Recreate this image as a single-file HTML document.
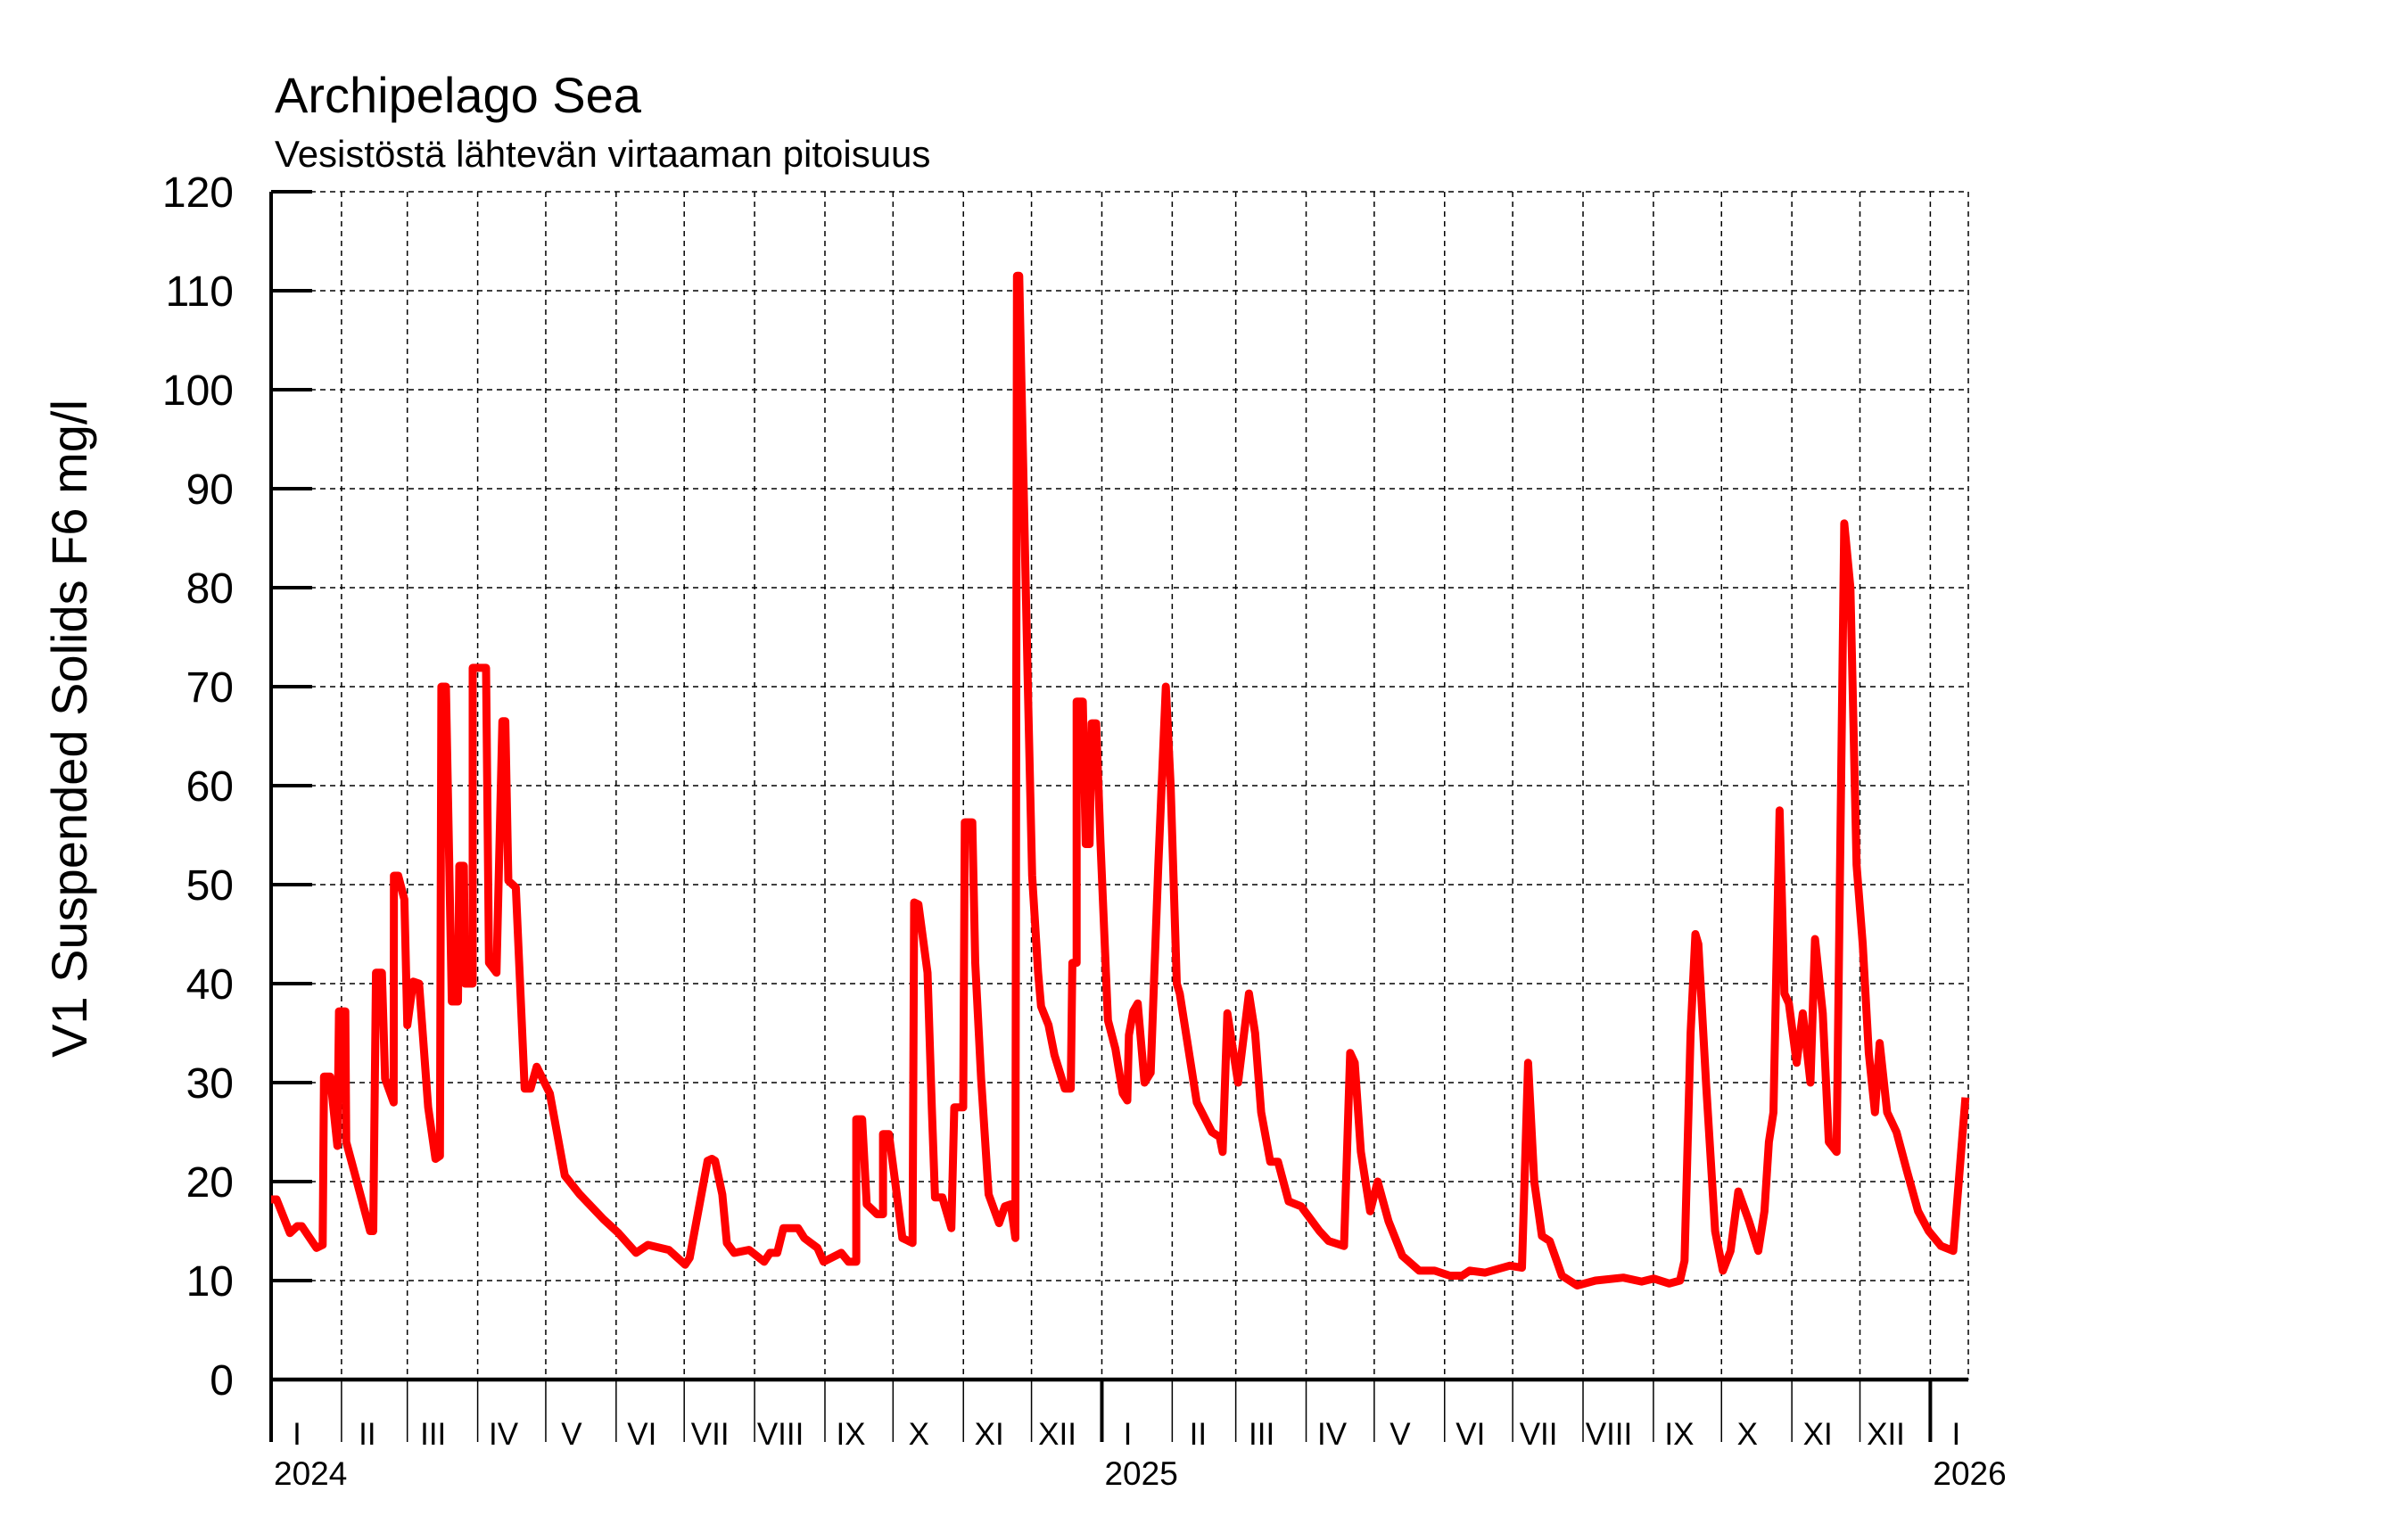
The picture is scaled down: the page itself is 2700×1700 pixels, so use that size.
<!DOCTYPE html>
<html><head><meta charset="utf-8"><style>
html,body{margin:0;padding:0;background:#fff}
svg{display:block}
text{font-family:"Liberation Sans",sans-serif;fill:#000}
</style></head><body>
<svg id="chart" width="2700" height="1700" viewBox="0 0 2700 1700" xmlns="http://www.w3.org/2000/svg">
<text x="308" y="126" font-size="56">Archipelago Sea</text>
<text x="308" y="187" font-size="42">Vesistöstä lähtevän virtaaman pitoisuus</text>
<text transform="translate(97,817) rotate(-90)" text-anchor="middle" font-size="56">V1 Suspended Solids F6 mg/l</text>
<g id="grid"></g>
<g id="axes"></g>
<g id="series"></g>
</svg>
<script>
const yTicks=[0,10,20,30,40,50,60,70,80,90,100,110,120];
const monthStarts=[0,31,60,91,121,152,182,213,244,274,305,335,366,397,425,456,486,517,547,578,609,639,670,700,731];
const monthLabels=["I","II","III","IV","V","VI","VII","VIII","IX","X","XI","XII","I","II","III","IV","V","VI","VII","VIII","IX","X","XI","XII","I"];
const yearStarts=[0,366,731];
const yearLabels=["2024","2025","2026"];
const days=[0,2.4,8.3,11.5,13.5,20,22.7,23.3,26,29.2,29.9,32.7,33.1,37.7,43.6,45,46.2,48.8,50.2,54,54.1,56,58.7,60,62.6,65.2,69.2,72.4,74.4,75,77,79.6,82.3,82.9,84.9,85.5,88.8,88.8,94.7,96,99.3,101.9,103.2,104.5,107.8,111.7,114.3,117,122.8,129.4,136,146.4,153,160.8,166,175.2,182.4,184.4,192.3,194.2,195.6,198.8,200.8,204,210.6,217.2,219.8,223,225.7,232.2,234.9,240.7,243.4,251.2,254.4,257.8,257.8,260.4,262.4,267,269.6,269.6,272.2,274.8,278.1,282.6,283.3,285.2,289.2,291.1,292.5,295.7,299.7,301,304.9,305.6,308.9,310.2,312.8,316.1,320.7,323.3,325.9,327.9,328.6,329.6,333.3,335.3,337.9,339.2,342.5,345.1,349.7,352.3,353,354.9,354.9,357.6,358.9,360.6,361.5,363.5,365.4,368.7,372,375.2,377.2,377.9,379.8,381.8,384.8,387.5,390.9,394.2,396.3,399,400.3,407.8,414.5,417.9,419.2,421.3,426,430.8,433.5,436.2,440.2,443.6,448.3,453.8,461.9,465.9,472.7,475.4,477.4,480.1,484.2,487.5,492.3,498.4,505.8,512.6,519.3,524.7,528.1,534.9,545.7,551.1,553.8,556.5,559.9,563.3,568.7,575.4,583.5,595.7,603.8,609.2,616,620.7,622.7,625.4,627.5,628.8,632.2,636.2,639.6,643,646.4,651.1,655.2,657.9,659.9,661.9,664.6,666.7,668.7,672.1,674.8,678.2,680.2,683.6,686.3,689.7,693.1,695.8,698.5,701.2,703.9,706.6,708.7,712,716.1,720.8,725.6,730.3,735.7,741.1,746.5];
const values=[18.2,18.2,14.8,15.5,15.5,13.3,13.6,30.6,30.6,23.6,37.2,37.2,24,20.1,15,15,41.1,41.1,30.4,28,50.9,50.9,48.5,35.8,40.2,40,27.5,22.3,22.6,70,70,38.2,38.2,51.9,51.9,40,40,71.9,71.9,42.1,41.1,66.5,66.5,50.4,49.7,29.4,29.4,31.6,28.9,20.6,18.7,16.2,14.8,12.8,13.6,13.1,11.6,12.3,22.1,22.3,22.1,18.7,13.8,12.8,13.1,11.9,12.8,12.8,15.3,15.3,14.3,13.3,11.9,12.8,11.9,11.9,26.3,26.3,17.7,16.7,16.7,24.8,24.8,20.2,14.3,13.8,48.2,48,41.1,27.5,18.4,18.4,15.3,27.5,27.5,56.3,56.3,42.1,30.4,18.7,15.8,17.5,17.7,14.3,111.5,111.5,71.2,50.9,41.1,37.7,35.8,32.8,29.4,29.4,42.1,42.1,68.5,68.5,54.1,54.1,66.3,66.3,54.3,36.3,33.4,28.9,28.2,34.8,37.2,38,30,31,52,70,60,40,39,28,25,24.5,23,37,30,39,35,27,22,22,18,17.5,15,14,13.5,33,32,23,17,20,16,12.5,11,11,10.5,10.5,11,10.8,11.5,11.3,32,20,14.5,14,10.5,9.5,10,10.3,9.9,10.2,9.7,10,12,35,45,44,30,15,11,13,19,16,13,17,24,27,57.5,39,38,32,37,30,44.5,37,24,23,86.5,80,52,44,33,27,34,27,25,21,17,15,13.5,13,28.5];
const NS="http://www.w3.org/2000/svg";
const X0=304,X1=2207,Y0=1547,YTOP=215,PXD=2.545;
const xS=d=>X0+d*PXD;
const yS=v=>Y0-(v/120)*(Y0-YTOP);
function mk(tag,attrs,parent){const e=document.createElementNS(NS,tag);for(const k in attrs)e.setAttribute(k,attrs[k]);parent.appendChild(e);return e;}
const grid=document.getElementById('grid'),axes=document.getElementById('axes'),series=document.getElementById('series');
yTicks.forEach(t=>{
  const y=yS(t);
  if(t>0){const g=mk('line',{x1:X0,x2:X1,y1:y,y2:y,stroke:'#000','stroke-width':1.5,'stroke-dasharray':'6,5'},grid);
  
  }
  const tk=mk('line',{x1:X0,x2:X0+46,y1:y,y2:y,stroke:'#000','stroke-width':4},axes);
  
  
  const lb=mk('text',{x:262,y:y+17,'text-anchor':'end','font-size':48},axes);
  lb.textContent=t;
  
  
});
monthStarts.forEach((d,i)=>{
  const x=xS(d);
  if(d>0){const g=mk('line',{x1:x,x2:x,y1:YTOP,y2:Y0,stroke:'#000','stroke-width':1.5,'stroke-dasharray':'6,5'},grid);
  
  }
  const isYear=yearStarts.indexOf(d)>=0;
  const tk=mk('line',{x1:x,x2:x,y1:Y0,y2:1617,stroke:'#000','stroke-width':isYear?4:1.5},axes);
  
  
  const lb=mk('text',{x:x+29,y:1620,'text-anchor':'middle','font-size':35},axes);
  lb.textContent=monthLabels[i];
  
  
});
{const g=mk('line',{x1:X1,x2:X1,y1:YTOP,y2:Y0,stroke:'#000','stroke-width':1.5,'stroke-dasharray':'6,5'},grid);

}
yearStarts.forEach((d,i)=>{
  const lb=mk('text',{x:xS(d)+3,y:1665,'font-size':37},axes);
  lb.textContent=yearLabels[i];
  
  
});
{const a=mk('line',{x1:X0,x2:X0,y1:YTOP,y2:1617,stroke:'#000','stroke-width':4},axes);


const b=mk('line',{x1:X0-2,x2:X1,y1:Y0,y2:Y0,stroke:'#000','stroke-width':4.5},axes);

}
let dstr=days.map((d,i)=>(i?'L':'M')+xS(d).toFixed(1)+','+yS(values[i]).toFixed(1)).join(' ');
const p=mk('path',{d:dstr,fill:'none',stroke:'#ff0000','stroke-width':9,'stroke-linejoin':'round','stroke-linecap':'butt'},series);


</script>
</body></html>
